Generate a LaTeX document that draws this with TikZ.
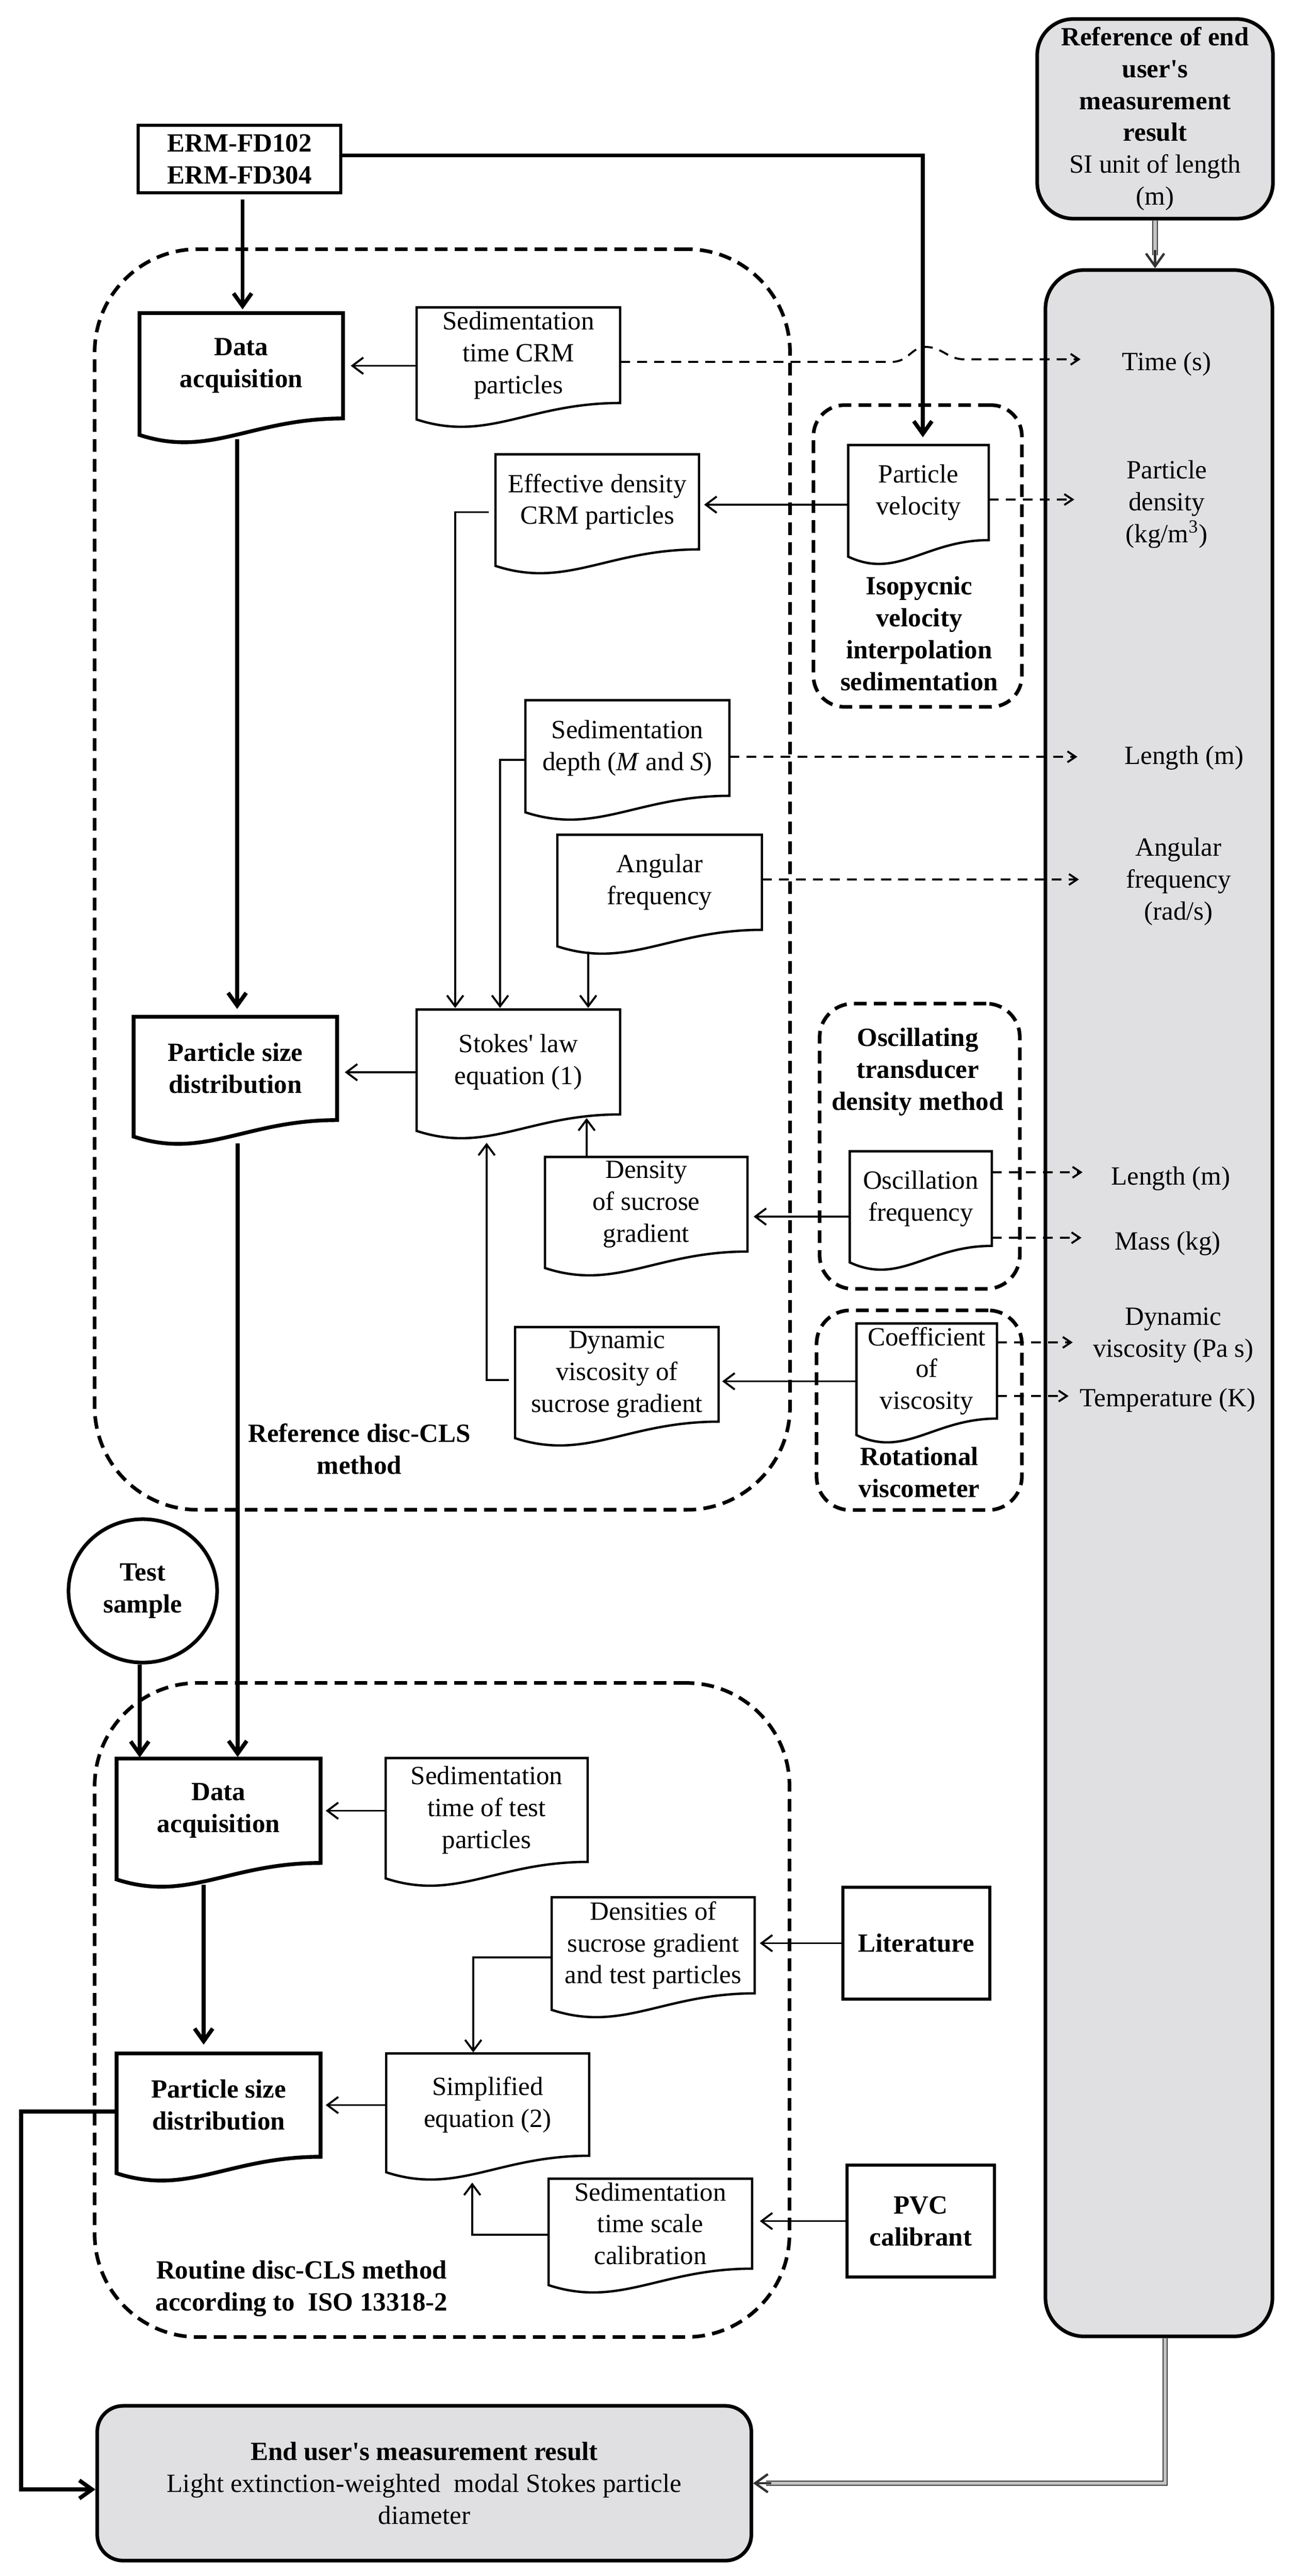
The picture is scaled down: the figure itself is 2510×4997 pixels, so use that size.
\documentclass[tikz,border=0pt]{standalone}
\usepackage{fontspec}
\setmainfont{Liberation Serif}
\usetikzlibrary{arrows.meta,calc,shapes.geometric}
\definecolor{boxgrey}{RGB}{224,224,226}
\newcommand\fs{\fontsize{14.5}{17.6}\selectfont}
\newcommand\ap{\textquotesingle}
\newcommand\docdraw[2][]{\draw[docline,#1] (#2.south east) .. controls ($(#2.south east)!0.45!(#2.south west)$) and ($(#2.south east)!0.65!(#2.south west)+(0cm,-0.77cm)$) .. ($(#2.south west)+(0cm,-0.32cm)$) -- (#2.north west) -- (#2.north east) -- cycle;}
\tikzset{
  every node/.style={font=\fs},
  docline/.style={line width=1.3pt, line join=miter},
  docn/.style={align=center, inner sep=0pt, minimum width=3.93cm},
  plainbox/.style={draw, line width=1.5pt, align=center, inner sep=0pt, font=\fs\bfseries},
  groupbox/.style={draw, line width=2pt, dash pattern=on 7pt off 4pt},
  thinarr/.style={line width=1.1pt, -{Straight Barb[length=6pt,width=9pt]}},
  thickarr/.style={line width=2.2pt, -{Straight Barb[length=7pt,width=10pt]}},
  dasharr/.style={line width=1.1pt, dash pattern=on 5.5pt off 3.9pt, -{Straight Barb[length=4.5pt,width=6pt]}},
  dbl/.style={draw=black!75, line width=0.6pt, double=boxgrey!70!gray, double distance=1.8pt},
  dbltip/.style={line width=1.3pt, draw=black!80, -{Straight Barb[length=7pt,width=10pt]}},
  lab/.style={align=center, inner sep=0pt}
}
\begin{document}
\begin{tikzpicture}[x=0.01cm, y=-0.01cm]
\useasboundingbox (0,0) rectangle (2510,4997);
\fill[white] (0,0) rectangle (2510,4997);

% grey column and reference box
\node[draw, line width=2pt, fill=boxgrey, rounded corners=0.75cm, minimum width=4.4cm, minimum height=40.06cm] (col) at (2248,2528) {};
\node[draw, line width=2pt, fill=boxgrey, rounded corners=0.7cm, minimum width=4.57cm, minimum height=3.87cm, align=center, inner sep=0pt] (ref) at (2240.5,230.5)
  {\textbf{Reference of end}\\\textbf{user\ap s}\\\textbf{measurement}\\\textbf{result}\\SI unit of length\\(m)};

% group boxes
\node[groupbox, rounded corners=2cm, minimum width=13.48cm, minimum height=24.44cm] (g1) at (858,1706) {};
\node[groupbox, rounded corners=2cm, minimum width=13.47cm, minimum height=12.68cm] (g2) at (857.5,3899) {};
\node[groupbox, rounded corners=0.6cm, minimum width=4.04cm, minimum height=5.85cm] (giso) at (1780,1078.5) {};
\node[groupbox, rounded corners=0.65cm, minimum width=3.88cm, minimum height=5.53cm] (gosc) at (1784,2223.5) {};
\node[groupbox, rounded corners=0.65cm, minimum width=3.98cm, minimum height=3.87cm] (grot) at (1783,2735.5) {};

% group labels
\node[lab, font=\fs\bfseries] (tiso) at (1783,1229) {Isopycnic\\velocity\\interpolation\\sedimentation};
\node[lab, font=\fs\bfseries] (tosc) at (1780,2079.5) {Oscillating\\transducer\\density method};
\node[lab, font=\fs\bfseries] (trot) at (1783,2856) {Rotational\\viscometer};
\node[lab, font=\fs\bfseries] (tref) at (697,2810.5) {Reference disc-CLS\\method};
\node[lab, font=\fs\bfseries] (trout) at (585,4439) {Routine disc-CLS method\\according to\ \ ISO 13318-2};

% plain boxes
\node[plainbox, minimum width=3.93cm, minimum height=1.31cm] (erm) at (464.5,308.5) {ERM-FD102\\ERM-FD304};
\node[plainbox, minimum width=2.85cm, minimum height=2.17cm] (lit) at (1777.5,3769.5) {Literature};
\node[plainbox, minimum width=2.86cm, minimum height=2.17cm] (pvc) at (1786,4308.5) {PVC\\calibrant};
\node[ellipse, draw, line width=2pt, minimum width=2.88cm, minimum height=2.78cm, align=center, inner sep=0pt, font=\fs\bfseries] (ts) at (277,3086) {Test\\sample};
\node[draw, line width=2pt, fill=boxgrey, rounded corners=0.5cm, minimum width=12.68cm, minimum height=3cm, align=center, inner sep=0pt] (endb) at (823,4817)
  {\textbf{End user\ap s measurement result}\\Light extinction-weighted\ \ modal Stokes particle\\diameter};

% document nodes
\node[docn, minimum height=2.03cm, font=\fs\bfseries] (da1) at (468,709.5) {Data\\acquisition};
\node[docn, minimum height=1.84cm] (sedcrm) at (1005.5,689) {Sedimentation\\time CRM\\particles};
\node[docn, minimum height=1.83cm] (eff) at (1158.5,973.5) {Effective density\\CRM particles};
\node[docn, minimum width=2.71cm, minimum height=1.83cm] (pv) at (1781.5,955.5) {Particle\\velocity};
\node[docn, minimum width=3.94cm, minimum height=1.84cm] (sd) at (1217,1451) {Sedimentation\\depth (\textit{M} and \textit{S})};
\node[docn, minimum width=3.95cm, minimum height=1.83cm] (af) at (1279.5,1711.5) {Angular\\frequency};
\node[docn, minimum height=1.99cm, font=\fs\bfseries] (psd1) at (456.5,2072.5) {Particle size\\distribution};
\node[docn, minimum height=2.02cm] (stokes) at (1005.5,2060) {Stokes\ap{} law\\equation (1)};
\node[docn, minimum width=3.91cm, minimum height=1.82cm] (den) at (1253.5,2336) {Density\\of sucrose\\gradient};
\node[docn, minimum width=2.74cm, minimum height=1.82cm] (of) at (1786,2325) {Oscillation\\frequency};
\node[docn, minimum height=1.82cm] (dv) at (1196.5,2666) {Dynamic\\viscosity of\\sucrose gradient};
\node[docn, minimum width=2.71cm, minimum height=1.83cm] (cv) at (1797.5,2659.5) {Coefficient\\of\\viscosity};
\node[docn, minimum width=3.94cm, minimum height=2.01cm, font=\fs\bfseries] (da2) at (424,3512.5) {Data\\acquisition};
\node[docn, minimum width=3.90cm, minimum height=2.00cm] (sedtest) at (944,3511) {Sedimentation\\time of test\\particles};
\node[docn, minimum width=3.92cm, minimum height=1.85cm] (dens) at (1267,3773.5) {Densities of\\sucrose gradient\\and test particles};
\node[docn, minimum width=3.94cm, minimum height=1.99cm, font=\fs\bfseries] (psd2) at (424,4083.5) {Particle size\\distribution};
\node[docn, minimum width=3.92cm, minimum height=1.97cm] (simp) at (946,4082.5) {Simplified\\equation (2)};
\node[docn, minimum height=1.73cm] (sts) at (1261.5,4313.5) {Sedimentation\\time scale\\calibration};

\docdraw[line width=2.1pt]{da1}
\docdraw{sedcrm}
\docdraw{eff}
\docdraw{pv}
\docdraw{sd}
\docdraw{af}
\docdraw[line width=2.1pt]{psd1}
\docdraw{stokes}
\docdraw{den}
\docdraw{of}
\docdraw{dv}
\docdraw{cv}
\docdraw[line width=2.1pt]{da2}
\docdraw{sedtest}
\docdraw{dens}
\docdraw[line width=2.1pt]{psd2}
\docdraw{simp}
\docdraw{sts}

% labels in the grey column
\node[lab] (ltime) at (2263,706) {Time (s)};
\node[lab] (lpd) at (2263,978) {Particle\\density\\(kg/m\textsuperscript{3})};
\node[lab] (llen1) at (2297,1470) {Length (m)};
\node[lab] (laf) at (2286,1710) {Angular\\frequency\\(rad/s)};
\node[lab] (llen2) at (2271,2286) {Length (m)};
\node[lab] (lmass) at (2265,2412) {Mass (kg)};
\node[lab] (ldv) at (2276,2590) {Dynamic\\viscosity (Pa s)};
\node[lab] (ltemp) at (2265,2716) {Temperature (K)};

% thick connectors
\draw[thickarr] ($(erm.east)+(0cm,0.07cm)$) -| ($(pv.north)+(0.085cm,0.15cm)$);
\draw[thickarr, shorten <=3pt] ($(erm.south)+(0.06cm,0cm)$) -- ($(erm.south |- da1.north)+(0.06cm,0.07cm)$);
\draw[thickarr] ($(da1.south)+(-0.08cm,-0.4cm)$) -- ($(da1.south |- psd1.north)+(-0.08cm,0.15cm)$);
\draw[thickarr] ($(psd1.south)+(0.045cm,-0.45cm)$) -- ($(psd1.south |- da2.north)+(0.045cm,0.03cm)$);
\draw[thickarr] ($(ts.south)+(-0.06cm,0cm)$) -- ($(ts.south |- da2.north)+(-0.06cm,0.02cm)$);
\draw[thickarr] ($(da2.south)+(-0.29cm,-0.42cm)$) -- ($(da2.south |- psd2.north)+(-0.29cm,0.17cm)$);
\draw[thickarr] ($(psd2.west)+(0cm,-0.125cm)$) -| ($(endb.west)+(-1.44cm,-0.12cm)$) -- ($(endb.west)+(0cm,-0.12cm)$);

% thin connectors (upper part)
\draw[thinarr] (sedcrm.west |- da1.east) -- ($(da1.east)+(0.15cm,0cm)$);
\coordinate (pvw) at ($(pv.west)+(0cm,-0.235cm)$);
\draw[thinarr] (pvw) -- ($(pvw -| eff.east)+(0.1cm,0cm)$);
\draw[thinarr] ($(eff.west)+(-0.13cm,-0.2cm)$) -| ($(stokes.north)+(-1.225cm,0.03cm)$);
\draw[thinarr] ($(sd.west)+(0cm,-0.23cm)$) -| ($(stokes.north)+(-0.355cm,0.03cm)$);
\coordinate (afb) at ($(af.south)+(-1.385cm,-0.42cm)$);
\draw[thinarr] (afb) -- ($(afb |- stokes.north)+(0cm,0.03cm)$);
\coordinate (stw) at ($(stokes.west)+(0cm,-0.2cm)$);
\draw[thinarr] (stw) -- ($(stw -| psd1.east)+(0.15cm,0cm)$);
\coordinate (dent) at ($(den.north)+(-1.155cm,0cm)$);
\draw[thinarr] (dent) -- ($(dent |- stokes.south)+(0cm,-0.07cm)$);
\coordinate (ofw) at ($(of.west)+(0cm,-0.35cm)$);
\draw[thinarr] (ofw) -- ($(ofw -| den.east)+(0.12cm,0cm)$);
\coordinate (dvw) at ($(dv.west)+(-0.12cm,-0.11cm)$);
\draw[thinarr] (dvw) -| ($(stokes.south)+(-0.615cm,-0.55cm)$);
\coordinate (cvw) at ($(cv.west)+(0cm,-0.2cm)$);
\draw[thinarr] (cvw) -- ($(cvw -| dv.east)+(0.07cm,0cm)$);

% thin connectors (lower part)
\draw[thinarr] (sedtest.west |- da2.east) -- ($(da2.east)+(0.1cm,0cm)$);
\draw[thinarr] (lit.west) -- ($(lit.west -| dens.east)+(0.1cm,0cm)$);
\draw[thinarr] ($(dens.west)+(0cm,-0.235cm)$) -| ($(simp.north)+(-0.28cm,0.02cm)$);
\draw[thinarr] (simp.west |- psd2.east) -- ($(psd2.east)+(0.1cm,0cm)$);
\draw[thinarr] ($(sts.west)+(0cm,-0.215cm)$) -| ($(simp.south)+(-0.30cm,-0.52cm)$);
\draw[thinarr] (pvc.west) -- ($(pvc.west -| sts.east)+(0.15cm,0cm)$);

% dashed connectors to SI quantities
\draw[dasharr] ($(sedcrm.east)+(0cm,-0.13cm)$) -- (1730,702) .. controls (1762,702) and (1768,673) .. (1795,673) .. controls (1828,673) and (1838,697) .. (1870,697) -- (2096,697);
\draw[dasharr] ($(pv.east)+(0cm,-0.135cm)$) -- ++(166,0);
\draw[dasharr] ($(sd.east)+(0cm,-0.17cm)$) -- ++(675,0);
\draw[dasharr] ($(af.east)+(0cm,0.055cm)$) -- ++(615,0);
\draw[dasharr] ($(of.east)+(0cm,0.51cm)$) -- ++(176,0);
\draw[dasharr] ($(of.east)+(0cm,-0.76cm)$) -- ++(174,0);
\draw[dasharr] ($(cv.east)+(0cm,0.555cm)$) -- ++(147,0);
\draw[dasharr] ($(cv.east)+(0cm,-0.485cm)$) -- ++(139,0);

% double connectors
\draw[dbl] (ref.south) -- ($(ref.south |- col.north)+(0cm,0.25cm)$);
\draw[dbltip] ($(ref.south |- col.north)+(0cm,0.35cm)$) -- (ref.south |- col.north);
\draw[dbl] ($(col.south)+(0.12cm,0cm)$) |- ($(endb.east)+(0.25cm,0cm)$);
\draw[dbltip] ($(endb.east)+(0.35cm,0cm)$) -- (endb.east);
\end{tikzpicture}
\end{document}
